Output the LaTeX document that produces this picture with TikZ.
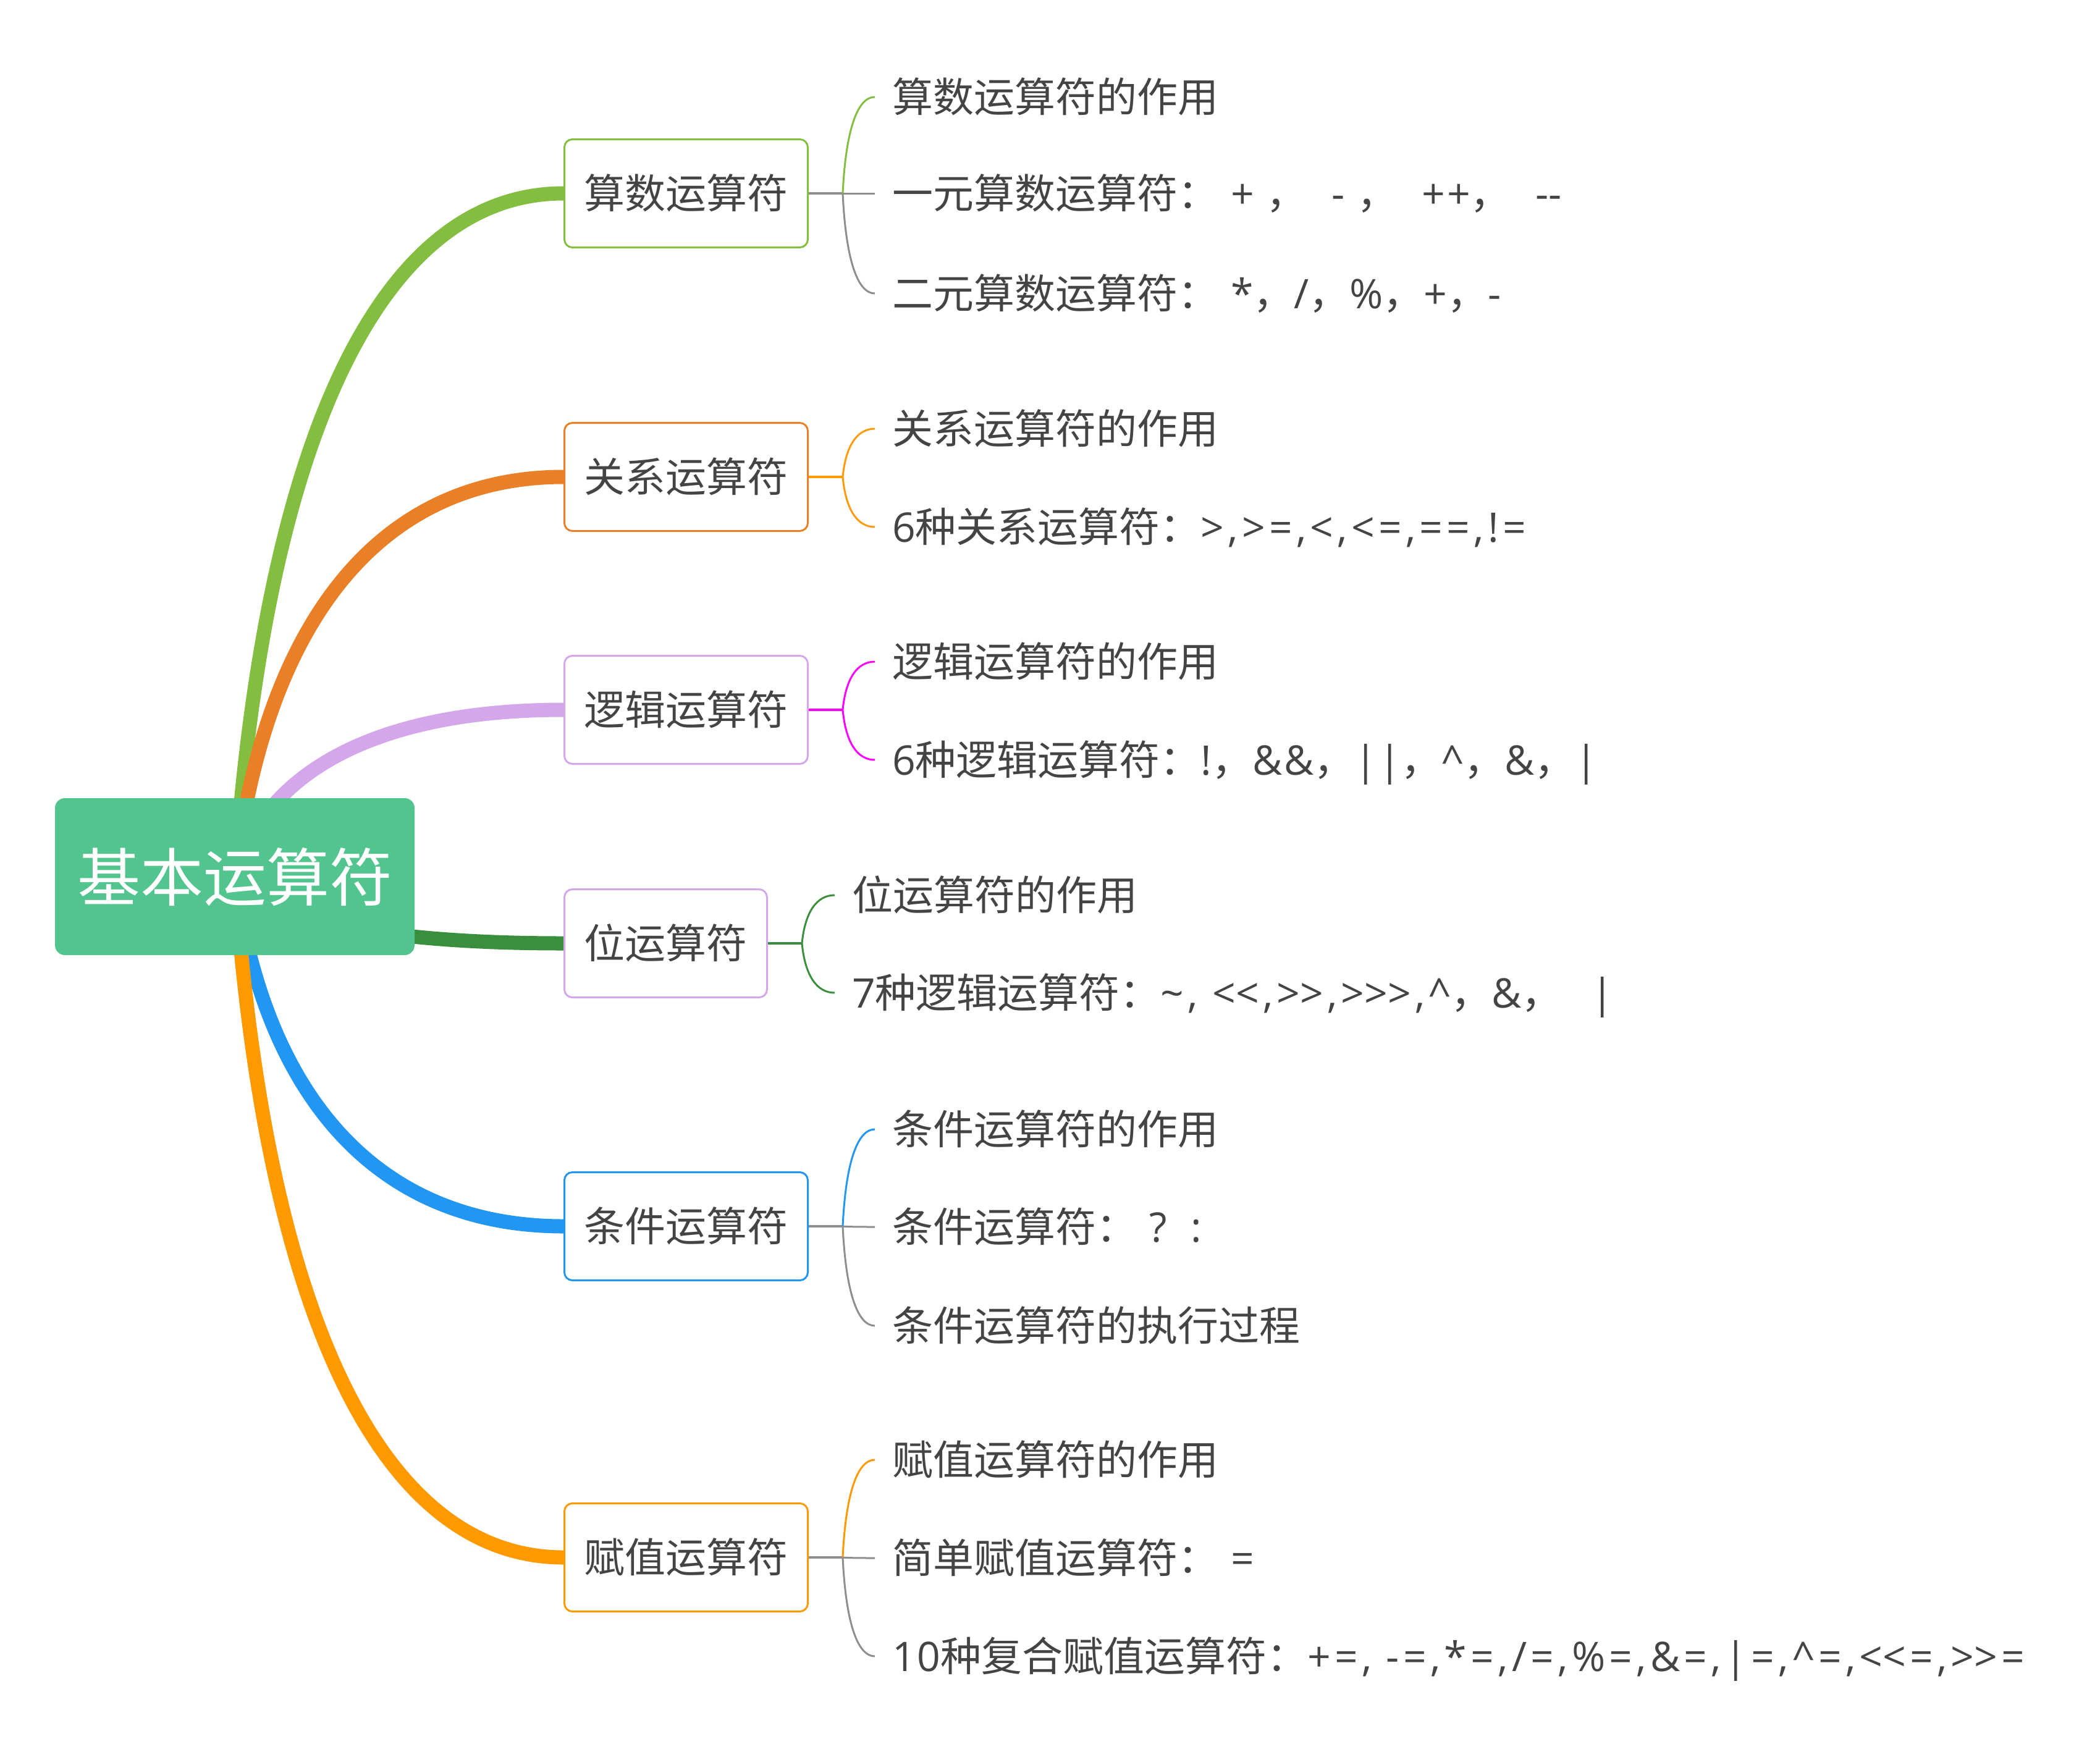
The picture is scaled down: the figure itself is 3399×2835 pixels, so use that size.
\documentclass[tikz,border=0pt]{standalone}
\usepackage{fontspec}
\newfontfamily\cjk{Noto Sans CJK SC}
\newfontfamily\lat{Open Sans}[LetterSpace=4]
\newfontfamily\latw{Open Sans}[LetterSpace=9.5]
\usetikzlibrary{calc,backgrounds}
\definecolor{rootgreen}{HTML}{52C48D}
\definecolor{cA}{HTML}{84BE41}
\definecolor{cB}{HTML}{E97F26}
\definecolor{cBsub}{HTML}{FF9A0A}
\definecolor{cC}{HTML}{D4A7EA}
\definecolor{cCsub}{HTML}{FF00FF}
\definecolor{cD}{HTML}{3B8E3D}
\definecolor{cE}{HTML}{2196F3}
\definecolor{cF}{HTML}{FF9900}
\definecolor{subgray}{HTML}{8E8E8E}
\definecolor{txt}{HTML}{444444}
\begin{document}
\begin{tikzpicture}[x=1pt,y=-1pt,
  curvy/.style={to path={let \p1=(\tikztostart), \p2=(\tikztotarget) in
     .. controls ({\x1+0.094*(\x2-\x1)},{\y1+0.65*(\y2-\y1)}) and ({\x1+0.45*(\x2-\x1)},\y2) .. (\tikztotarget)}},
  mainline/.style={line width=23pt, curvy},
  subline/.style={line width=3pt, curvy},
  stemline/.style={line width=3.5pt},
  rootnode/.style={fill=rootgreen, rounded corners=16pt, minimum width=582pt, minimum height=254pt,
     inner sep=0pt, font=\cjk\fontsize{102}{110}\selectfont, text=white, text height=86pt, text depth=8pt},
  topic/.style={draw=#1, fill=white, line width=3pt, rounded corners=13pt, minimum height=175pt,
     inner xsep=32pt, inner ysep=0pt, anchor=west, font=\cjk\fontsize{66}{72}\selectfont, text=txt,
     text height=55pt, text depth=6pt},
  leaf/.style={anchor=west, inner xsep=28pt, inner ysep=0pt, font=\cjk\fontsize{66}{72}\selectfont,
     text=txt, text height=55pt, text depth=6pt}
]
\useasboundingbox (0,0) rectangle (3399,2835);

% root and topics
\node[rootnode] (root) at (380,1419) {基本运算符};
\node[topic=cA] (b1) at (912,313) {算数运算符};
\node[topic=cB] (b2) at (912,772) {关系运算符};
\node[topic=cC] (b3) at (912,1149) {逻辑运算符};
\node[topic=cC] (b4) at (912,1527) {位运算符};
\node[topic=cE] (b5) at (912,1985) {条件运算符};
\node[topic=cF] (b6) at (912,2521) {赋值运算符};

% main connectors behind the nodes
\begin{scope}[on background layer]
\draw[mainline, draw=cA] (root.center) to (b1.west);
\draw[mainline, draw=cB] (root.center) to (b2.west);
\draw[mainline, draw=cC] (root.center) to (b3.west);
\draw[mainline, draw=cD] (root.center) to (b4.west);
\draw[mainline, draw=cE] (root.center) to (b5.west);
\draw[mainline, draw=cF] (root.center) to (b6.west);
\end{scope}

% split points
\coordinate (s1) at ($(b1.east)+(55,0)$);
\coordinate (s2) at ($(b2.east)+(55,0)$);
\coordinate (s3) at ($(b3.east)+(55,0)$);
\coordinate (s4) at ($(b4.east)+(55,0)$);
\coordinate (s5) at ($(b5.east)+(55,0)$);
\coordinate (s6) at ($(b6.east)+(55,0)$);

% leaves
\node[leaf] (t11) at (1416,157) {算数运算符的作用};
\node[leaf] (t12) at (1416,313) {一元算数运算符：{\lat\ +\ }，{\lat\ \ -\ }，{\lat\ \ ++}，{\lat\ \ -\kern0pt-}};
\node[leaf] (t13) at (1416,475) {二元算数运算符：{\lat\ *}，{\lat /}，{\lat\%}，{\lat +}，{\lat -}};
\node[leaf] (t21) at (1416,694) {关系运算符的作用};
\node[leaf] (t22) at (1416,853) {{\lat 6}种关系运算符：{\latw >,>=,<,<=,==,!=}};
\node[leaf] (t31) at (1416,1071) {逻辑运算符的作用};
\node[leaf] (t32) at (1416,1230) {{\lat 6}种逻辑运算符：{\lat !}，{\lat\&\&}，{\lat ||}，{\lat\textasciicircum}，{\lat\&}，{\lat |}};
\node[leaf] (t41) at (1351,1449) {位运算符的作用};
\node[leaf] (t42) at (1351,1607) {{\lat 7}种逻辑运算符：{\latw\textasciitilde, <\kern0pt<,>\kern0pt>,>\kern0pt>\kern0pt>,\textasciicircum}，{\latw\&}，{\latw\ \ |}};
\node[leaf] (t51) at (1416,1828) {条件运算符的作用};
\node[leaf] (t52) at (1416,1986) {条件运算符：{\lat\ ?\ \ :}};
\node[leaf] (t53) at (1416,2146) {条件运算符的执行过程};
\node[leaf] (t61) at (1416,2363) {赋值运算符的作用};
\node[leaf] (t62) at (1416,2522) {简单赋值运算符：{\lat\ =}};
\node[leaf] (t63) at (1416,2681) {{\lat 10}种复合赋值运算符：{\latw +=, -=,*=,/=,\%=,\&=,|=,\textasciicircum=,<\kern0pt<=,>\kern0pt>=}};

% group 1
\draw[stemline, subgray] (b1.east) -- (s1);
\draw[subline, draw=cA] (s1) to (t11.west);
\draw[subline, draw=subgray] (s1) to (t12.west);
\draw[subline, draw=subgray] (s1) to (t13.west);
% group 2
\draw[stemline, cBsub] (b2.east) -- (s2);
\draw[subline, draw=cBsub] (s2) to (t21.west);
\draw[subline, draw=cBsub] (s2) to (t22.west);
% group 3
\draw[stemline, cCsub] (b3.east) -- (s3);
\draw[subline, draw=cCsub] (s3) to (t31.west);
\draw[subline, draw=cCsub] (s3) to (t32.west);
% group 4
\draw[stemline, cD] (b4.east) -- (s4);
\draw[subline, draw=cD] (s4) to (t41.west);
\draw[subline, draw=cD] (s4) to (t42.west);
% group 5
\draw[stemline, subgray] (b5.east) -- (s5);
\draw[subline, draw=cE] (s5) to (t51.west);
\draw[subline, draw=subgray] (s5) to (t52.west);
\draw[subline, draw=subgray] (s5) to (t53.west);
% group 6
\draw[stemline, subgray] (b6.east) -- (s6);
\draw[subline, draw=cF] (s6) to (t61.west);
\draw[subline, draw=subgray] (s6) to (t62.west);
\draw[subline, draw=subgray] (s6) to (t63.west);
\end{tikzpicture}
\end{document}
